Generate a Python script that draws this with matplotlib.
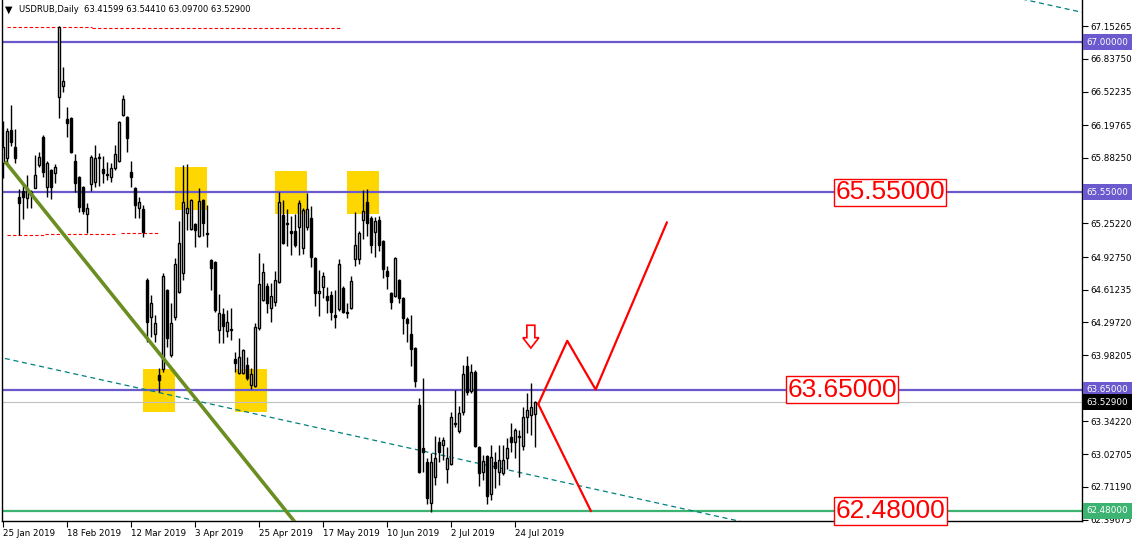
#!/usr/bin/env python
"""Redraw the USDRUB daily chart with support / resistance markup."""

import matplotlib

matplotlib.use("Agg")

import matplotlib.pyplot as plt
import numpy as np
from matplotlib.patches import Polygon, Rectangle

# daily candles, bar 0 = 25 Jan 2019
OPENS = [
    65.83, 65.88, 66.15, 65.99, 65.51, 65.56, 65.50, 65.55, 65.59, 65.81,
    66.08, 65.60, 65.77, 65.74, 66.47, 66.58, 66.26, 66.27, 65.85, 65.70,
    65.60, 65.34, 65.63, 65.65, 65.88, 65.78, 65.73, 65.70, 65.79, 65.85,
    66.30, 66.28, 65.75, 65.59, 65.40, 65.39, 64.71, 64.35, 64.19, 63.79,
    63.85, 64.61, 63.98, 64.35, 64.59, 64.77, 65.35, 65.20, 65.25, 65.13,
    65.48, 65.16, 64.90, 64.88, 64.22, 64.38, 64.21, 64.23, 63.94, 63.81,
    63.81, 63.89, 63.69, 63.68, 64.24, 64.51, 64.65, 64.44, 64.49, 64.69,
    65.33, 65.25, 65.18, 65.18, 65.22, 65.01, 65.22, 65.30, 64.92, 64.58,
    64.64, 64.55, 64.56, 64.37, 64.43, 64.63, 64.40, 64.44, 64.91, 64.91,
    65.28, 65.46, 65.30, 65.17, 65.28, 65.08, 64.79, 64.58, 64.55, 64.71,
    64.53, 64.33, 64.19, 64.05, 63.50, 63.09, 62.95, 62.56, 62.81, 63.14,
    63.12, 62.88, 62.93, 63.32, 63.25, 63.43, 63.88, 63.64, 63.82, 63.10,
    62.86, 63.01, 62.64, 62.95, 62.86, 62.85, 62.99, 63.19, 63.14, 63.19,
    63.11, 63.39, 63.40, 63.41599,
]
HIGHS = [
    66.24, 66.17, 66.39, 66.16, 65.58, 65.63, 65.72, 65.57, 65.91, 65.94,
    66.10, 65.85, 65.78, 65.82, 67.15, 66.76, 66.37, 66.28, 65.92, 65.71,
    65.61, 65.45, 65.91, 66.01, 65.93, 65.90, 65.84, 65.83, 66.01, 66.24,
    66.49, 66.29, 65.85, 65.60, 65.51, 65.43, 64.73, 64.56, 64.37, 63.86,
    64.77, 64.62, 64.48, 64.92, 65.27, 65.81, 65.82, 65.49, 65.26, 65.59,
    65.49, 65.43, 64.91, 64.89, 64.57, 64.44, 64.42, 64.44, 64.01, 64.15,
    64.04, 63.96, 63.86, 64.29, 64.97, 64.87, 64.68, 64.68, 64.79, 65.55,
    65.48, 65.39, 65.32, 65.34, 65.48, 65.40, 65.54, 65.42, 64.93, 64.80,
    64.78, 64.64, 64.60, 64.61, 64.91, 64.65, 64.48, 64.74, 65.36, 65.18,
    65.57, 65.58, 65.32, 65.31, 65.32, 65.09, 64.84, 64.59, 64.93, 64.72,
    64.54, 64.35, 64.37, 64.06, 63.57, 63.76, 62.99, 63.04, 63.20, 63.19,
    63.19, 63.10, 63.43, 63.65, 63.49, 63.89, 63.97, 63.90, 63.84, 63.11,
    63.02, 63.02, 63.12, 63.05, 63.12, 63.12, 63.18, 63.33, 63.28, 63.26,
    63.48, 63.62, 63.71, 63.54410,
]
LOWS = [
    65.69, 65.83, 66.00, 65.83, 65.14, 65.29, 65.40, 65.40, 65.59, 65.80,
    65.70, 65.51, 65.49, 65.64, 66.27, 66.52, 66.08, 65.93, 65.55, 65.36,
    65.34, 65.16, 65.56, 65.60, 65.61, 65.64, 65.67, 65.65, 65.77, 65.84,
    66.29, 65.94, 65.60, 65.30, 65.30, 65.12, 64.11, 64.16, 64.11, 63.63,
    63.82, 64.06, 63.96, 64.32, 64.58, 64.71, 65.19, 65.19, 65.02, 65.12,
    65.13, 65.02, 64.61, 64.40, 64.10, 64.10, 64.16, 64.13, 63.82, 63.80,
    63.80, 63.74, 63.66, 63.67, 64.22, 64.50, 64.39, 64.30, 64.46, 64.68,
    65.05, 65.03, 64.95, 65.02, 64.95, 64.96, 65.19, 64.83, 64.46, 64.36,
    64.53, 64.39, 64.32, 64.24, 64.41, 64.39, 64.34, 64.43, 64.84, 64.86,
    65.10, 65.13, 64.97, 64.93, 64.99, 64.73, 64.62, 64.43, 64.54, 64.48,
    64.19, 64.11, 63.88, 63.67, 62.85, 62.86, 62.55, 62.47, 62.73, 62.95,
    62.97, 62.75, 62.92, 63.29, 63.23, 63.40, 63.60, 63.62, 63.10, 62.72,
    62.78, 62.55, 62.59, 62.70, 62.73, 62.83, 62.88, 63.05, 62.99, 62.81,
    63.07, 63.23, 63.21, 63.09700,
]
CLOSES = [
    65.99, 66.14, 66.04, 65.88, 65.45, 65.51, 65.59, 65.53, 65.72, 65.89,
    65.75, 65.83, 65.60, 65.80, 67.14, 66.62, 66.22, 65.94, 65.64, 65.41,
    65.37, 65.40, 65.89, 65.88, 65.89, 65.74, 65.72, 65.79, 65.92, 66.23,
    66.45, 66.07, 65.70, 65.43, 65.46, 65.17, 64.30, 64.48, 64.29, 63.74,
    64.74, 64.15, 64.29, 64.86, 65.06, 65.46, 65.40, 65.48, 65.19, 65.47,
    65.26, 65.15, 64.82, 64.42, 64.39, 64.26, 64.30, 64.22, 63.91, 63.96,
    64.03, 63.76, 63.80, 64.25, 64.67, 64.78, 64.48, 64.55, 64.71, 65.46,
    65.06, 65.26, 65.16, 65.04, 65.45, 65.38, 65.39, 64.93, 64.58, 64.60,
    64.74, 64.51, 64.40, 64.35, 64.86, 64.40, 64.39, 64.70, 65.04, 65.16,
    65.37, 65.26, 65.04, 65.27, 65.04, 64.81, 64.74, 64.49, 64.92, 64.53,
    64.34, 64.29, 64.04, 63.73, 62.86, 63.05, 62.60, 62.95, 62.99, 63.05,
    63.16, 62.99, 63.39, 63.33, 63.42, 63.80, 63.63, 63.82, 63.11, 62.85,
    62.96, 62.62, 63.00, 62.89, 62.97, 62.97, 63.09, 63.14, 63.26, 63.20,
    63.39, 63.45, 63.48, 63.52900,
]

DATE_BARS = [0, 16, 32, 48, 64, 80, 96, 112, 128]
DATE_LABELS = ["25 Jan 2019", "18 Feb 2019", "12 Mar 2019", "3 Apr 2019", "25 Apr 2019",
               "17 May 2019", "10 Jun 2019", "2 Jul 2019", "24 Jul 2019"]
PRICE_TICKS = [67.15265, 66.83750, 66.52235, 66.19765, 65.88250, 65.25220, 64.92750,
               64.61235, 64.29720, 63.98205, 63.34220, 63.02705, 62.71190, 62.39675]

BLUE_LEVELS = [67.0, 65.55, 63.65]
GREEN_LEVEL = 62.48
LAST_PRICE = 63.529

# yellow zones: bar span and price span
ZONE_BAR0 = [42.9, 67.9, 85.9, 34.9, 57.9]
ZONE_BAR1 = [50.9, 75.9, 93.9, 42.9, 65.9]
ZONE_TOP = [65.80, 65.76, 65.76, 63.85, 63.85]
ZONE_BOTTOM = [65.38, 65.34, 65.34, 63.43, 63.43]

# red dashed high/low levels: (bar from, bar to, price)
DASH_FROM = [0.85, 22.1, 0.85, 10.4, 29.4]
DASH_TO = [22.1, 84.2, 10.4, 28.4, 39.0]
DASH_PRICE = [67.142, 67.133, 65.14, 65.15, 65.16]

# trend lines, two anchors each
OLIVE_BARS = [0.4, 54.2]
OLIVE_PRICES = [65.85, 63.27]
TEAL_BARS = [0.4, 80.0]
TEAL_PRICES = [63.95, 63.27]
TEAL_UPPER_BAR = 259.2
TEAL_UPPER_PRICE = 67.376

# projected path
UP_PATH_BARS = [133.75, 141.0, 148.1, 165.9]
UP_PATH_PRICES = [63.51, 64.12, 63.65, 65.26]
DOWN_PATH_BARS = [133.75, 146.9]
DOWN_PATH_PRICES = [63.51, 62.48]

ARROW_BAR = 131.9
ARROW_TOP, ARROW_NECK, ARROW_TIP = 64.27, 64.15, 64.05

LABEL_TEXTS = ["65.55000", "63.65000", "62.48000"]
LABEL_BARS = [208.0, 196.0, 208.0]
LABEL_PRICES = [65.55, 63.65, 62.48]

TITLE = "USDRUB,Daily  63.41599 63.54410 63.09700 63.52900"

W, H = 1134, 545
fig = plt.figure(figsize=(W / 100, H / 100), dpi=100)
ax = fig.add_axes([2 / W, 24 / H, 1080 / W, 521 / H])
ax.set_xlim(-0.325, 269.7)
ax.set_ylim(62.383, 67.405)
for side in ("left", "right", "bottom"):
    ax.spines[side].set_linewidth(1.0)
    ax.spines[side].set_color("black")
ax.spines["top"].set_visible(False)

# zones behind everything
for x0, x1, top, bottom in zip(ZONE_BAR0, ZONE_BAR1, ZONE_TOP, ZONE_BOTTOM):
    ax.add_patch(Rectangle((x0, bottom), x1 - x0, top - bottom, facecolor="#FFD700",
                           edgecolor="none", zorder=1))

for level in BLUE_LEVELS:
    ax.axhline(level, color="#6A5ACD", lw=1.6, zorder=2)
ax.axhline(GREEN_LEVEL, color="#3CB371", lw=1.6, zorder=2)
ax.axhline(LAST_PRICE, color="#C0C0C0", lw=0.8, zorder=2)

for x0, x1, price in zip(DASH_FROM, DASH_TO, DASH_PRICE):
    ax.plot([x0, x1], [price, price], color="red", lw=0.8, dashes=(3, 2), zorder=2)

# teal channel (rays to the right)
teal_slope = (TEAL_PRICES[1] - TEAL_PRICES[0]) / (TEAL_BARS[1] - TEAL_BARS[0])
ray = np.array([TEAL_BARS[0], 300.0])
ax.plot(ray, TEAL_PRICES[0] + teal_slope * (ray - TEAL_BARS[0]), color="#008080",
        lw=0.9, dashes=(4, 3), zorder=2)
ax.plot(ray, TEAL_UPPER_PRICE + teal_slope * (ray - TEAL_UPPER_BAR), color="#008080",
        lw=0.9, dashes=(4, 3), zorder=2)

# candles
bars = np.arange(len(OPENS))
ax.vlines(bars, LOWS, HIGHS, color="black", lw=1.0, zorder=3)
for i, (o, c) in enumerate(zip(OPENS, CLOSES)):
    face = "white" if c >= o else "black"
    ax.add_patch(Rectangle((i - 0.3, min(o, c)), 0.6, max(abs(c - o), 0.004),
                           facecolor=face, edgecolor="black", lw=1.0, zorder=4))

olive_slope = (OLIVE_PRICES[1] - OLIVE_PRICES[0]) / (OLIVE_BARS[1] - OLIVE_BARS[0])
olive_x = np.array([OLIVE_BARS[0], 90.0])
ax.plot(olive_x, OLIVE_PRICES[0] + olive_slope * (olive_x - OLIVE_BARS[0]),
        color="#6B8E23", lw=2.6, zorder=5, solid_capstyle="butt")

ax.plot(UP_PATH_BARS, UP_PATH_PRICES, color="red", lw=1.6, zorder=5)
ax.plot(DOWN_PATH_BARS, DOWN_PATH_PRICES, color="red", lw=1.6, zorder=5)

arrow = [(ARROW_BAR - 1.0, ARROW_TOP), (ARROW_BAR + 1.0, ARROW_TOP),
         (ARROW_BAR + 1.0, ARROW_NECK), (ARROW_BAR + 2.0, ARROW_NECK),
         (ARROW_BAR, ARROW_TIP), (ARROW_BAR - 2.0, ARROW_NECK),
         (ARROW_BAR - 1.0, ARROW_NECK)]
ax.add_patch(Polygon(arrow, closed=True, facecolor="white", edgecolor="red", lw=1.2, zorder=6))

for text, bar, price in zip(LABEL_TEXTS, LABEL_BARS, LABEL_PRICES):
    ax.text(bar, price, text, ha="left", va="center", fontsize=19, color="red",
            family="Liberation Sans", zorder=7,
            bbox=dict(boxstyle="square,pad=0.06", facecolor="white", edgecolor="red", lw=1.0))

# axes
ax.yaxis.tick_right()
ax.set_yticks(PRICE_TICKS)
ax.set_yticklabels([f"{p:.5f}" for p in PRICE_TICKS])
ax.tick_params(axis="y", length=4, width=0.8, pad=2, labelsize=6.3, colors="black")
ax.set_xticks(DATE_BARS)
ax.set_xticklabels(DATE_LABELS, ha="left")
ax.tick_params(axis="x", length=4, width=0.8, pad=2, labelsize=6.3, colors="black")

ytrans = ax.get_yaxis_transform()
tags = [(p, "#6A5ACD") for p in BLUE_LEVELS] + [(LAST_PRICE, "black"), (GREEN_LEVEL, "#3CB371")]
for price, color in tags:
    ax.text(1.0045, price, f"{price:.5f}", transform=ytrans, ha="left", va="center",
            fontsize=6.3, color="white", clip_on=False, zorder=8,
            bbox=dict(boxstyle="square,pad=0.4", facecolor=color, edgecolor="none"))

fig.text(5 / W, 1 - 10 / H, "\u25BC", fontsize=7, va="center", ha="left", color="black")
fig.text(19 / W, 1 - 10 / H, TITLE, fontsize=6.0, va="center", ha="left", color="black")

fig.savefig("out.png", dpi=100)
